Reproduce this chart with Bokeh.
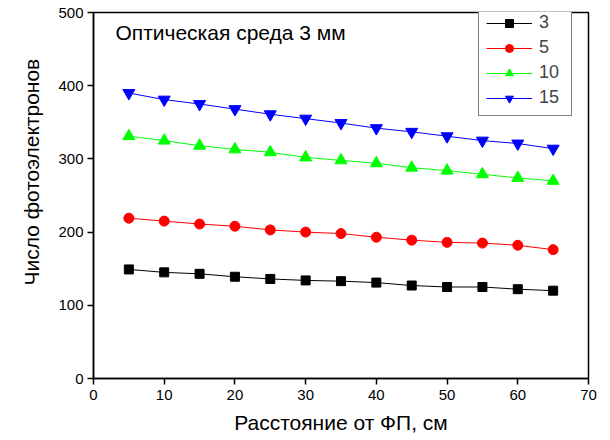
from bokeh.plotting import figure
from bokeh.models import Range1d, Label, Legend, LegendItem
from bokeh.embed import file_html
from bokeh.resources import INLINE

distance = [5, 10, 15, 20, 25, 30, 35, 40, 45, 50, 55, 60, 65]
s3 = [149, 145, 143, 139, 136, 134, 133, 131, 127, 125, 125, 122, 120]
s5 = [219, 215, 211, 208, 203, 200, 198, 193, 189, 186, 185, 182, 176]
s10 = [331, 325, 318, 313, 309, 302, 298, 294, 288, 284, 279, 274, 270]
s15 = [390, 381, 375, 368, 361, 355, 349, 342, 337, 331, 325, 321, 314]
series_names = ["3", "5", "10", "15"]
x_ticks = [0, 10, 20, 30, 40, 50, 60, 70]
y_ticks = [0, 100, 200, 300, 400, 500]

FONT = "Liberation Sans"

p = figure(width=610, height=440, output_backend="svg", toolbar_location=None,
           x_range=Range1d(0, 70), y_range=Range1d(0, 500),
           min_border_left=93, min_border_right=22, min_border_top=12, min_border_bottom=62,
           title=None)
p.grid.visible = False
p.outline_line_color = "black"
p.outline_line_width = 1.5

for ax in (p.xaxis[0], p.yaxis[0]):
    ax.axis_line_width = 1.5
    ax.major_tick_line_width = 1.5
    ax.minor_tick_line_width = 1.5
    ax.major_tick_in = 0
    ax.minor_tick_in = 0
    ax.major_label_text_font = FONT
    ax.major_label_text_font_size = "15px"
    ax.major_label_text_color = "black"
    ax.axis_label_text_font = FONT
    ax.axis_label_text_font_size = "21px"
    ax.axis_label_text_font_style = "normal"
    ax.axis_label_text_color = "black"

p.xaxis.ticker = x_ticks
p.yaxis.ticker = y_ticks
p.xaxis.ticker.num_minor_ticks = 2
p.yaxis.ticker.num_minor_ticks = 2
p.xaxis.major_tick_out = 6
p.xaxis.minor_tick_out = 3
p.yaxis.major_tick_out = 6
p.yaxis.minor_tick_out = 3
p.xaxis.major_label_standoff = 5
p.yaxis.major_label_standoff = 4
p.xaxis.axis_label = "Расстояние от ФП, см"
p.xaxis.axis_label_standoff = 8
# non-breaking spaces shift the rotated title upward, as in the reference
p.yaxis.axis_label = "\u00a0" * 8 + "Число фотоэлектронов"
p.yaxis.axis_label_standoff = 12

specs = [
    (s3, "black", "square", 9),
    (s5, "#ff0000", "circle", 10),
    (s10, "#00ff00", "triangle", 12),
    (s15, "#0000ff", "inverted_triangle", 12),
]
items = []
for name, (ys, col, mk, sz) in zip(series_names, specs):
    l = p.line(distance, ys, line_color=col, line_width=1)
    m = p.scatter(distance, ys, marker=mk, size=sz, fill_color=col, line_color=col)
    items.append(LegendItem(label=name, renderers=[l, m]))

legend = Legend(items=items, location=(385, 262))
legend.border_line_color = "black"
legend.border_line_width = 1.2
legend.background_fill_alpha = 1
legend.label_text_font = FONT
legend.label_text_font_size = "18px"
legend.glyph_width = 46
legend.glyph_height = 20
legend.label_height = 20
legend.label_width = 25
legend.spacing = 4
legend.padding = 7
legend.margin = 0
legend.label_standoff = 7
p.add_layout(legend)

p.add_layout(Label(x=3.1, y=473, text="Оптическая среда 3 мм", text_font=FONT,
                   text_font_size="21px", text_baseline="alphabetic", text_color="black"))

open("out.html", "w").write(file_html(p, INLINE))
